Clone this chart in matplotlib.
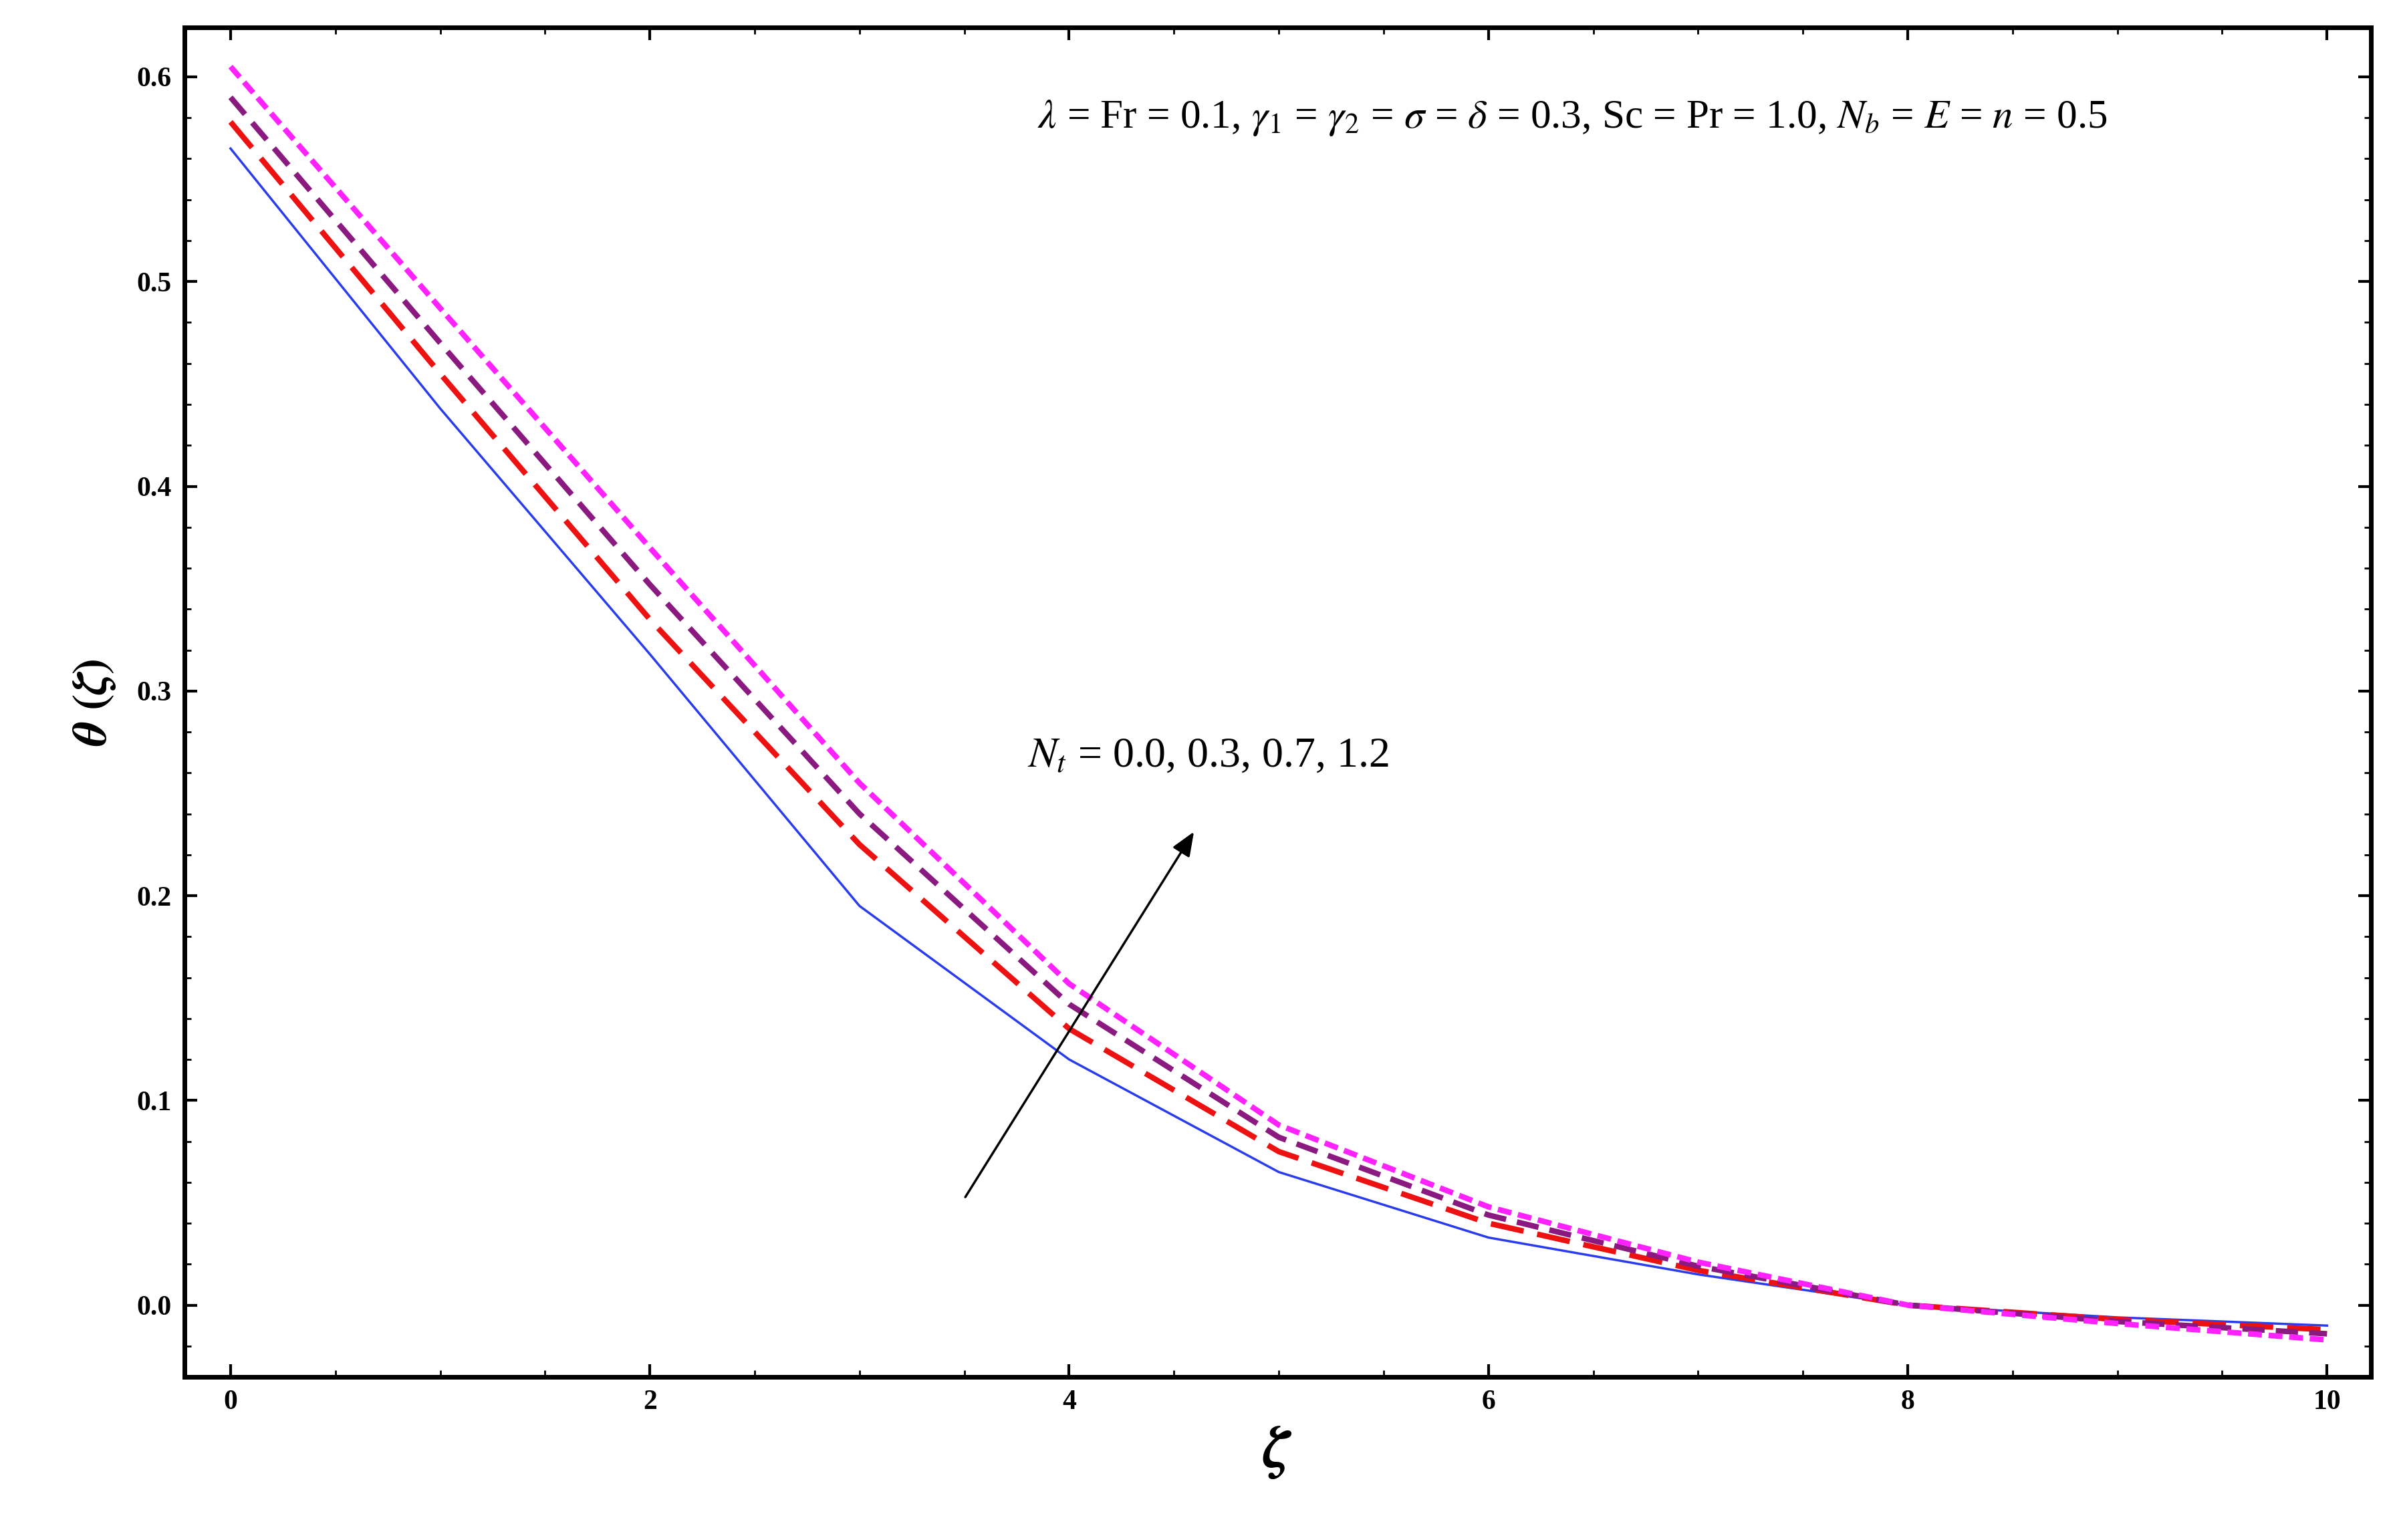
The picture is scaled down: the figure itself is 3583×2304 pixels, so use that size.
import matplotlib
matplotlib.use("Agg")
import matplotlib.pyplot as plt
import numpy as np

x = [0, 1, 2, 3, 4, 5, 6, 7, 8, 9, 10]
blue = [0.565, 0.438, 0.318, 0.195, 0.120, 0.065, 0.033, 0.015, 0.0, -0.006, -0.010]
red = [0.578, 0.455, 0.335, 0.225, 0.135, 0.075, 0.040, 0.017, 0.0, -0.007, -0.012]
purple = [0.590, 0.470, 0.352, 0.240, 0.147, 0.082, 0.044, 0.019, 0.0, -0.008, -0.014]
magenta = [0.605, 0.487, 0.370, 0.255, 0.157, 0.088, 0.048, 0.021, 0.0, -0.009, -0.017]
xticks = [0, 2, 4, 6, 8, 10]
yticks = [0.0, 0.1, 0.2, 0.3, 0.4, 0.5, 0.6]

plt.rcParams['font.family'] = ['Liberation Serif', 'DejaVu Serif']
plt.rcParams['mathtext.fontset'] = 'stix'
fig = plt.figure(figsize=(35.83, 23.04), dpi=100)
ax = fig.add_axes([0.077, 0.106, 0.913, 0.876])

ax.plot(x, blue, color='#2a3cf0', lw=2.5)
ax.plot(x, red, color='#ee1111', lw=6, dashes=(6, 2.5))
ax.plot(x, purple, color='#8a1a80', lw=6, dashes=(4, 2))
ax.plot(x, magenta, color='#ff22ff', lw=6, dashes=(2.5, 1.2))

ax.set_xlim(-0.22, 10.21)
ax.set_ylim(-0.035, 0.624)
ax.set_xticks(xticks)
ax.set_yticks(yticks)
ax.set_xticklabels([str(t) for t in xticks])
ax.set_yticklabels([f"{t:.1f}" for t in yticks])
ax.tick_params(direction='in', length=14, width=3, labelsize=30, top=True, right=True, pad=14)
for lab in ax.get_xticklabels() + ax.get_yticklabels():
    lab.set_fontweight('bold')
ax.set_xticks(np.arange(0, 10.01, 0.5), minor=True)
ax.set_yticks(np.arange(-0.02, 0.62, 0.02), minor=True)
ax.tick_params(which='minor', direction='in', length=7, width=2, top=True, right=True)
for s in ax.spines.values():
    s.set_linewidth(5)

ax.set_xlabel(r'$\boldsymbol{\zeta}$', fontsize=64, labelpad=10)
ax.set_ylabel(r'$\boldsymbol{\theta}\ \mathbf{(}\boldsymbol{\zeta}\mathbf{)}$', fontsize=52, labelpad=20)

ax.text(6.4, 0.58, r'$\lambda$ = Fr = 0.1, $\gamma_1$ = $\gamma_2$ = $\sigma$ = $\delta$ = 0.3, Sc = Pr = 1.0, $N_b$ = $E$ = $n$ = 0.5',
        fontsize=44, ha='center', va='center')
ax.text(3.8, 0.268, r'$N_t$ = 0.0, 0.3, 0.7, 1.2', fontsize=46, ha='left', va='center')
ax.annotate('', xy=(4.6, 0.232), xytext=(3.5, 0.052),
            arrowprops=dict(arrowstyle='-|>,head_length=2.2,head_width=0.9', color='black', lw=2.5))

fig.savefig('out.png', dpi=100)
